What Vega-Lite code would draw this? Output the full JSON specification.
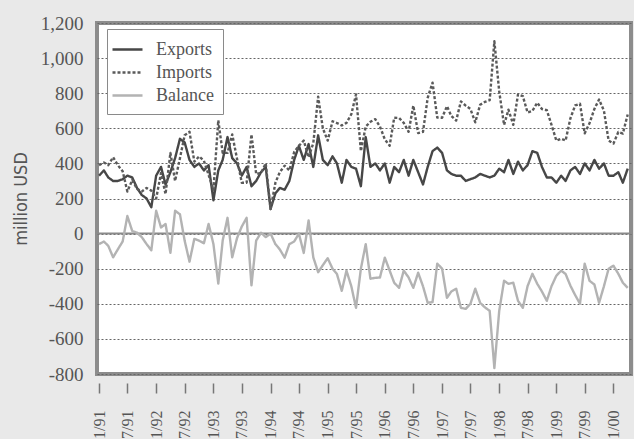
{
  "$schema": "https://vega.github.io/schema/vega-lite/v6.json",
  "width": 534,
  "height": 351,
  "autosize": {"type": "none"},
  "padding": {"left": 97, "top": 23, "right": 3, "bottom": 65},
  "background": "#e9e9e9",
  "config": {
    "view": {"fill": "#ffffff", "stroke": "#8c8c8c", "strokeWidth": 4},
    "font": "Liberation Serif",
    "axisY": {
      "values": [-800, -600, -400, -200, 0, 200, 400, 600, 800, 1000, 1200],
      "labelExpr": "(datum.value < 0 ? '-' : '') + format(abs(datum.value), ',.0f')",
      "titleFont": "DejaVu Sans Condensed, Liberation Sans Narrow, DejaVu Sans, sans-serif",
      "titleFontWeight": "normal",
      "titleFontSize": 18,
      "titleColor": "#555555",
      "titlePadding": 10,
      "labelFontSize": 19,
      "labelColor": "#555555",
      "labelFont": "Liberation Serif",
      "labelFlush": false,
      "labelOverlap": false,
      "ticks": false,
      "domain": false,
      "labelPadding": 14,
      "grid": true,
      "gridColor": "#666666",
      "gridDash": [2, 2],
      "gridWidth": 1
    }
  },
  "data": {"values": [
    {"date": "1991-01-01", "Exports": 330, "Imports": 390, "Balance": -60},
    {"date": "1991-02-01", "Exports": 360, "Imports": 405, "Balance": -45},
    {"date": "1991-03-01", "Exports": 320, "Imports": 390, "Balance": -70},
    {"date": "1991-04-01", "Exports": 300, "Imports": 435, "Balance": -135},
    {"date": "1991-05-01", "Exports": 300, "Imports": 390, "Balance": -90},
    {"date": "1991-06-01", "Exports": 310, "Imports": 355, "Balance": -45},
    {"date": "1991-07-01", "Exports": 330, "Imports": 240, "Balance": 100},
    {"date": "1991-08-01", "Exports": 320, "Imports": 305, "Balance": 15},
    {"date": "1991-09-01", "Exports": 260, "Imports": 255, "Balance": 5},
    {"date": "1991-10-01", "Exports": 220, "Imports": 240, "Balance": -20},
    {"date": "1991-11-01", "Exports": 200, "Imports": 260, "Balance": -60},
    {"date": "1991-12-01", "Exports": 150, "Imports": 245, "Balance": -95},
    {"date": "1992-01-01", "Exports": 330, "Imports": 200, "Balance": 130},
    {"date": "1992-02-01", "Exports": 380, "Imports": 345, "Balance": 35},
    {"date": "1992-03-01", "Exports": 280, "Imports": 225, "Balance": 55},
    {"date": "1992-04-01", "Exports": 350, "Imports": 460, "Balance": -110},
    {"date": "1992-05-01", "Exports": 430, "Imports": 300, "Balance": 130},
    {"date": "1992-06-01", "Exports": 540, "Imports": 430, "Balance": 110},
    {"date": "1992-07-01", "Exports": 520, "Imports": 560, "Balance": -40},
    {"date": "1992-08-01", "Exports": 420, "Imports": 580, "Balance": -160},
    {"date": "1992-09-01", "Exports": 380, "Imports": 410, "Balance": -30},
    {"date": "1992-10-01", "Exports": 400, "Imports": 440, "Balance": -40},
    {"date": "1992-11-01", "Exports": 360, "Imports": 415, "Balance": -55},
    {"date": "1992-12-01", "Exports": 390, "Imports": 335, "Balance": 55},
    {"date": "1993-01-01", "Exports": 190, "Imports": 250, "Balance": -60},
    {"date": "1993-02-01", "Exports": 360, "Imports": 645, "Balance": -285},
    {"date": "1993-03-01", "Exports": 420, "Imports": 460, "Balance": -40},
    {"date": "1993-04-01", "Exports": 550, "Imports": 460, "Balance": 90},
    {"date": "1993-05-01", "Exports": 430, "Imports": 565, "Balance": -135},
    {"date": "1993-06-01", "Exports": 400, "Imports": 425, "Balance": -25},
    {"date": "1993-07-01", "Exports": 330, "Imports": 290, "Balance": 40},
    {"date": "1993-08-01", "Exports": 380, "Imports": 290, "Balance": 90},
    {"date": "1993-09-01", "Exports": 270, "Imports": 565, "Balance": -295},
    {"date": "1993-10-01", "Exports": 300, "Imports": 340, "Balance": -40},
    {"date": "1993-11-01", "Exports": 350, "Imports": 345, "Balance": 5},
    {"date": "1993-12-01", "Exports": 380, "Imports": 400, "Balance": -20},
    {"date": "1994-01-01", "Exports": 140, "Imports": 140, "Balance": 0},
    {"date": "1994-02-01", "Exports": 230, "Imports": 290, "Balance": -60},
    {"date": "1994-03-01", "Exports": 260, "Imports": 350, "Balance": -90},
    {"date": "1994-04-01", "Exports": 250, "Imports": 387, "Balance": -137},
    {"date": "1994-05-01", "Exports": 300, "Imports": 360, "Balance": -60},
    {"date": "1994-06-01", "Exports": 420, "Imports": 465, "Balance": -45},
    {"date": "1994-07-01", "Exports": 500, "Imports": 500, "Balance": 0},
    {"date": "1994-08-01", "Exports": 420, "Imports": 530, "Balance": -110},
    {"date": "1994-09-01", "Exports": 510, "Imports": 435, "Balance": 75},
    {"date": "1994-10-01", "Exports": 380, "Imports": 515, "Balance": -135},
    {"date": "1994-11-01", "Exports": 560, "Imports": 780, "Balance": -220},
    {"date": "1994-12-01", "Exports": 420, "Imports": 600, "Balance": -180},
    {"date": "1995-01-01", "Exports": 390, "Imports": 530, "Balance": -140},
    {"date": "1995-02-01", "Exports": 440, "Imports": 640, "Balance": -200},
    {"date": "1995-03-01", "Exports": 400, "Imports": 630, "Balance": -230},
    {"date": "1995-04-01", "Exports": 290, "Imports": 616, "Balance": -326},
    {"date": "1995-05-01", "Exports": 420, "Imports": 631, "Balance": -211},
    {"date": "1995-06-01", "Exports": 380, "Imports": 680, "Balance": -300},
    {"date": "1995-07-01", "Exports": 370, "Imports": 793, "Balance": -423},
    {"date": "1995-08-01", "Exports": 270, "Imports": 470, "Balance": -200},
    {"date": "1995-09-01", "Exports": 550, "Imports": 610, "Balance": -60},
    {"date": "1995-10-01", "Exports": 380, "Imports": 637, "Balance": -257},
    {"date": "1995-11-01", "Exports": 400, "Imports": 652, "Balance": -252},
    {"date": "1995-12-01", "Exports": 360, "Imports": 610, "Balance": -250},
    {"date": "1996-01-01", "Exports": 400, "Imports": 537, "Balance": -137},
    {"date": "1996-02-01", "Exports": 290, "Imports": 501, "Balance": -211},
    {"date": "1996-03-01", "Exports": 380, "Imports": 660, "Balance": -280},
    {"date": "1996-04-01", "Exports": 350, "Imports": 659, "Balance": -309},
    {"date": "1996-05-01", "Exports": 420, "Imports": 631, "Balance": -211},
    {"date": "1996-06-01", "Exports": 330, "Imports": 580, "Balance": -250},
    {"date": "1996-07-01", "Exports": 420, "Imports": 729, "Balance": -309},
    {"date": "1996-08-01", "Exports": 350, "Imports": 573, "Balance": -223},
    {"date": "1996-09-01", "Exports": 280, "Imports": 580, "Balance": -300},
    {"date": "1996-10-01", "Exports": 380, "Imports": 774, "Balance": -394},
    {"date": "1996-11-01", "Exports": 470, "Imports": 860, "Balance": -390},
    {"date": "1996-12-01", "Exports": 490, "Imports": 661, "Balance": -171},
    {"date": "1997-01-01", "Exports": 460, "Imports": 660, "Balance": -200},
    {"date": "1997-02-01", "Exports": 360, "Imports": 726, "Balance": -366},
    {"date": "1997-03-01", "Exports": 340, "Imports": 670, "Balance": -330},
    {"date": "1997-04-01", "Exports": 330, "Imports": 644, "Balance": -314},
    {"date": "1997-05-01", "Exports": 330, "Imports": 753, "Balance": -423},
    {"date": "1997-06-01", "Exports": 300, "Imports": 729, "Balance": -429},
    {"date": "1997-07-01", "Exports": 310, "Imports": 710, "Balance": -400},
    {"date": "1997-08-01", "Exports": 320, "Imports": 634, "Balance": -314},
    {"date": "1997-09-01", "Exports": 340, "Imports": 734, "Balance": -394},
    {"date": "1997-10-01", "Exports": 330, "Imports": 750, "Balance": -420},
    {"date": "1997-11-01", "Exports": 320, "Imports": 760, "Balance": -440},
    {"date": "1997-12-01", "Exports": 330, "Imports": 1096, "Balance": -766},
    {"date": "1998-01-01", "Exports": 370, "Imports": 810, "Balance": -440},
    {"date": "1998-02-01", "Exports": 350, "Imports": 619, "Balance": -269},
    {"date": "1998-03-01", "Exports": 420, "Imports": 706, "Balance": -286},
    {"date": "1998-04-01", "Exports": 340, "Imports": 620, "Balance": -280},
    {"date": "1998-05-01", "Exports": 410, "Imports": 793, "Balance": -383},
    {"date": "1998-06-01", "Exports": 360, "Imports": 783, "Balance": -423},
    {"date": "1998-07-01", "Exports": 390, "Imports": 690, "Balance": -300},
    {"date": "1998-08-01", "Exports": 470, "Imports": 699, "Balance": -229},
    {"date": "1998-09-01", "Exports": 460, "Imports": 746, "Balance": -286},
    {"date": "1998-10-01", "Exports": 380, "Imports": 710, "Balance": -330},
    {"date": "1998-11-01", "Exports": 320, "Imports": 703, "Balance": -383},
    {"date": "1998-12-01", "Exports": 320, "Imports": 620, "Balance": -300},
    {"date": "1999-01-01", "Exports": 290, "Imports": 530, "Balance": -240},
    {"date": "1999-02-01", "Exports": 330, "Imports": 541, "Balance": -211},
    {"date": "1999-03-01", "Exports": 300, "Imports": 530, "Balance": -230},
    {"date": "1999-04-01", "Exports": 360, "Imports": 657, "Balance": -297},
    {"date": "1999-05-01", "Exports": 380, "Imports": 730, "Balance": -350},
    {"date": "1999-06-01", "Exports": 340, "Imports": 740, "Balance": -400},
    {"date": "1999-07-01", "Exports": 400, "Imports": 571, "Balance": -171},
    {"date": "1999-08-01", "Exports": 360, "Imports": 629, "Balance": -269},
    {"date": "1999-09-01", "Exports": 420, "Imports": 710, "Balance": -290},
    {"date": "1999-10-01", "Exports": 370, "Imports": 764, "Balance": -394},
    {"date": "1999-11-01", "Exports": 400, "Imports": 700, "Balance": -300},
    {"date": "1999-12-01", "Exports": 330, "Imports": 530, "Balance": -200},
    {"date": "2000-01-01", "Exports": 330, "Imports": 513, "Balance": -183},
    {"date": "2000-02-01", "Exports": 350, "Imports": 579, "Balance": -229},
    {"date": "2000-03-01", "Exports": 290, "Imports": 570, "Balance": -280},
    {"date": "2000-04-01", "Exports": 370, "Imports": 679, "Balance": -309}
  ]},
  "layer": [
    {
      "data": {"values": [{"v": 0}]},
      "mark": {"type": "rule", "color": "#8a8a8a", "strokeWidth": 2},
      "encoding": {
        "y": {"field": "v", "type": "quantitative", "scale": {"domain": [-800, 1200], "nice": false}, "title": "million USD"}
      }
    },
    {
      "transform": [{"fold": ["Exports", "Imports", "Balance"], "as": ["series", "value"]}],
      "mark": {"type": "line", "strokeWidth": 2.4, "strokeJoin": "round"},
      "encoding": {
        "x": {
          "field": "date",
          "type": "temporal",
          "scale": {"type": "utc", "domain": [{"year": 1990, "month": 12, "date": 19, "utc": true}, {"year": 2000, "month": 4, "date": 22, "utc": true}]},
          "axis": {
            "title": null,
            "tickCount": {"interval": "month", "step": 6},
            "format": "%-m/%y",
            "labelAngle": -90,
            "offset": 9,
            "domain": false,
            "grid": false,
            "tickSize": 10,
            "tickColor": "#777777",
            "tickWidth": 1.5,
            "labelPadding": 17,
            "labelFontSize": 16,
            "labelColor": "#555555",
            "labelFont": "Liberation Serif",
            "labelFlush": false,
            "labelOverlap": false
          }
        },
        "y": {
          "field": "value",
          "type": "quantitative",
          "scale": {"domain": [-800, 1200], "nice": false},
          "title": "million USD"
        },
        "color": {
          "field": "series",
          "type": "nominal",
          "scale": {"domain": ["Exports", "Imports", "Balance"], "range": ["#474747", "#5a5a5a", "#b3b3b3"]},
          "legend": {
            "orient": "none", "legendX": 10, "legendY": 6, "title": null,
            "fillColor": "#ffffff", "strokeColor": "#8a8a8a", "padding": 9,
            "symbolType": "M-1.5,0H1.5", "symbolSize": 400, "symbolStrokeWidth": 2.5,
            "labelFontSize": 18, "labelFont": "Liberation Serif", "labelColor": "#555555",
            "rowPadding": 2, "labelOffset": 17
          }
        },
        "strokeDash": {
          "field": "series",
          "type": "nominal",
          "scale": {"domain": ["Exports", "Imports", "Balance"], "range": [[1, 0], [3, 2], [1, 0]]},
          "legend": {
            "orient": "none", "legendX": 10, "legendY": 6, "title": null,
            "fillColor": "#ffffff", "strokeColor": "#8a8a8a", "padding": 9,
            "symbolType": "M-1.5,0H1.5", "symbolSize": 400, "symbolStrokeWidth": 2.5,
            "labelFontSize": 18, "labelFont": "Liberation Serif", "labelColor": "#555555",
            "rowPadding": 2, "labelOffset": 17
          }
        }
      }
    }
  ]
}
